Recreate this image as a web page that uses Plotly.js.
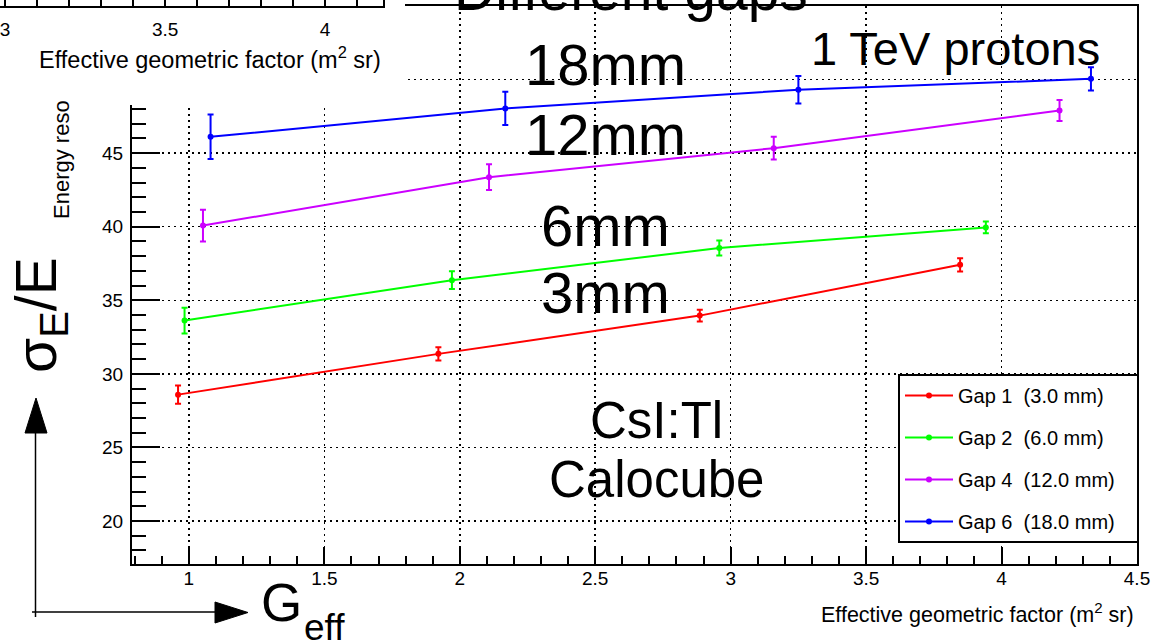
<!DOCTYPE html>
<html><head><meta charset="utf-8">
<script src="https://cdn.plot.ly/plotly-3.0.1.min.js"></script>
<style>html,body{margin:0;padding:0;background:#fff}#chart{width:1164px;height:642px}</style>
</head><body><div id="chart"></div>
<script>
// ---------------- data ----------------
const gap1_x = [0.960, 1.921, 2.886, 3.847];
const gap1_y = [28.59, 31.36, 33.96, 37.41];
const gap1_err = [0.62, 0.45, 0.40, 0.45];

const gap2_x = [0.984, 1.971, 2.958, 3.942];
const gap2_y = [33.62, 36.37, 38.55, 39.95];
const gap2_err = [0.87, 0.60, 0.51, 0.40];

const gap4_x = [1.052, 2.108, 3.159, 4.214];
const gap4_y = [40.08, 43.37, 45.34, 47.90];
const gap4_err = [1.08, 0.87, 0.77, 0.72];

const gap6_x = [1.080, 2.168, 3.250, 4.330];
const gap6_y = [46.11, 48.04, 49.31, 50.05];
const gap6_err = [1.51, 1.13, 0.93, 0.79];

const seriesNames = ['Gap 1\u00a0\u00a0(3.0 mm)\u00a0\u00a0\u00a0', 'Gap 2\u00a0\u00a0(6.0 mm)\u00a0\u00a0\u00a0', 'Gap 4\u00a0\u00a0(12.0 mm)\u00a0\u00a0\u00a0', 'Gap 6\u00a0\u00a0(18.0 mm)\u00a0\u00a0\u00a0'];
const seriesColors = ['#ff0000', '#00ff00', '#cc00ff', '#0000ff'];
const gapLabels = ['18mm', '12mm', '6mm', '3mm'];
const xTitle = 'Effective geometric factor (m<sup>2</sup> sr)';

// ---------------- helpers (pixel -> paper) ----------------
const W = 1164, H = 642;
const PX = p => p / W;
const PY = p => 1 - p / H;
const FONT = '"Liberation Sans", Arial, Helvetica, sans-serif';

const xs = [gap1_x, gap2_x, gap4_x, gap6_x];
const ys = [gap1_y, gap2_y, gap4_y, gap6_y];
const es = [gap1_err, gap2_err, gap4_err, gap6_err];

const traces = xs.map((x, i) => ({
  type: 'scatter', mode: 'lines+markers',
  x: x, y: ys[i], name: seriesNames[i], legendgroup: 'g' + i,
  line: {color: seriesColors[i], width: 2},
  marker: {color: seriesColors[i], size: 6, symbol: 'circle'},
  error_y: {type: 'data', array: es[i], visible: true, color: seriesColors[i], thickness: 2, width: 3},
  xaxis: 'x', yaxis: 'y'
}));
// helper subplots (mask + fragment axis of an adjoining plot)
traces.push({type: 'scatter', x: [], y: [], xaxis: 'x2', yaxis: 'y2', showlegend: false, hoverinfo: 'skip'});
traces.push({type: 'scatter', x: [], y: [], xaxis: 'x3', yaxis: 'y3', showlegend: false, hoverinfo: 'skip'});

const common = {
  showline: true, linecolor: 'black', linewidth: 2, ticks: 'inside', tickwidth: 2, tickcolor: 'black',
  zeroline: false, tickfont: {size: 19, family: FONT, color: 'black'}
};

const layout = {
  width: W, height: H,
  margin: {l: 0, r: 0, t: 0, b: 0, pad: 0},
  paper_bgcolor: 'white', plot_bgcolor: 'white',
  font: {family: FONT, color: 'black'},
  showlegend: true,
  legend: {
    x: PX(898), y: PY(374), xanchor: 'left', yanchor: 'top',
    bgcolor: 'white', bordercolor: 'black', borderwidth: 2,
    font: {size: 20, family: FONT, color: 'black'},
    tracegroupgap: 13, itemwidth: 48, traceorder: 'grouped'
  },
  xaxis: Object.assign({}, common, {
    domain: [PX(132), PX(1137)], range: [0.79, 4.5], anchor: 'y', mirror: true,
    ticklen: 17, dtick: 0.5, tick0: 0,
    showgrid: true, gridcolor: 'black', gridwidth: 1.5, griddash: '2px,4px',
    minor: {dtick: 0.1, ticks: 'inside', ticklen: 8, tickwidth: 2, tickcolor: 'black', showgrid: false},
    ticklabelstandoff: -4
  }),
  yaxis: Object.assign({}, common, {
    domain: [PY(564), PY(6)], range: [17.08, 55], anchor: 'x', mirror: true,
    ticklen: 28, dtick: 5, tick0: 0,
    showgrid: true, gridcolor: 'black', gridwidth: 1.5, griddash: '2px,4px',
    minor: {dtick: 1, ticks: 'inside', ticklen: 14, tickwidth: 2, tickcolor: 'black', showgrid: false},
    ticklabelstandoff: 3
  }),
  xaxis2: {domain: [0, PX(405)], range: [0, 1], visible: false, anchor: 'y2', fixedrange: true},
  yaxis2: {domain: [PY(105), 1], range: [0, 1], visible: false, anchor: 'x2', fixedrange: true},
  xaxis3: Object.assign({}, common, {
    domain: [0, PX(383)], range: [2.984, 4.181], anchor: 'y3',
    ticklen: 12, dtick: 0.5, tick0: 0, showgrid: false,
    minor: {dtick: 0.1, ticks: 'inside', ticklen: 12, tickwidth: 2, tickcolor: 'black', showgrid: false},
    ticklabelstandoff: 5, ticklabeloverflow: 'allow'
  }),
  yaxis3: {domain: [PY(6), 1], range: [0, 1], anchor: 'x3', side: 'right', showline: true, linecolor: 'black', linewidth: 2,
    showticklabels: false, ticks: '', showgrid: false, zeroline: false},
  shapes: [
    // white mask hiding the upper-left corner of the main frame (another plot overlaps it)
    {type: 'rect', xref: 'x2', yref: 'y2', x0: 0, x1: 1, y0: 0, y1: 1, fillcolor: 'white', line: {width: 0}, layer: 'below'},
    // hand-drawn axis arrows
    {type: 'line', xref: 'paper', yref: 'paper', x0: PX(35.5), x1: PX(35.5), y0: PY(430), y1: PY(617), line: {color: 'black', width: 1.5}, layer: 'above'},
    {type: 'path', xref: 'paper', yref: 'paper', path: `M ${PX(36)} ${PY(398)} L ${PX(25)} ${PY(433)} L ${PX(47)} ${PY(433)} Z`, fillcolor: 'black', line: {color: 'black', width: 1}, layer: 'above'},
    {type: 'line', xref: 'paper', yref: 'paper', x0: PX(32), x1: PX(218), y0: PY(612), y1: PY(612), line: {color: 'black', width: 1.5}, layer: 'above'},
    {type: 'path', xref: 'paper', yref: 'paper', path: `M ${PX(248)} ${PY(612.5)} L ${PX(215)} ${PY(602)} L ${PX(215)} ${PY(623)} Z`, fillcolor: 'black', line: {color: 'black', width: 1}, layer: 'above'}
  ],
  annotations: [
    {text: 'Different gaps', x: PX(631), y: PY(24), xref: 'paper', yref: 'paper', xanchor: 'center', yanchor: 'bottom', showarrow: false, font: {size: 57, family: FONT}},
    {text: gapLabels[0], x: PX(605), y: PY(64.5), xref: 'paper', yref: 'paper', xanchor: 'center', yanchor: 'middle', showarrow: false, font: {size: 58, family: FONT}},
    {text: gapLabels[1], x: PX(605), y: PY(135), xref: 'paper', yref: 'paper', xanchor: 'center', yanchor: 'middle', showarrow: false, font: {size: 58, family: FONT}},
    {text: gapLabels[2], x: PX(605), y: PY(226), xref: 'paper', yref: 'paper', xanchor: 'center', yanchor: 'middle', showarrow: false, font: {size: 58, family: FONT}},
    {text: gapLabels[3], x: PX(605), y: PY(292), xref: 'paper', yref: 'paper', xanchor: 'center', yanchor: 'middle', showarrow: false, font: {size: 58, family: FONT}},
    {text: '1 TeV protons', x: PX(955), y: PY(48), xref: 'paper', yref: 'paper', xanchor: 'center', yanchor: 'middle', showarrow: false, font: {size: 47, family: FONT}},
    {text: 'CsI:Tl', x: PX(656), y: PY(420), xref: 'paper', yref: 'paper', xanchor: 'center', yanchor: 'middle', showarrow: false, font: {size: 51, family: FONT}},
    {text: 'Calocube', x: PX(656), y: PY(479), xref: 'paper', yref: 'paper', xanchor: 'center', yanchor: 'middle', showarrow: false, font: {size: 51, family: FONT}},
    {text: 'σ<sub>E</sub>/E', x: PX(40), y: PY(315), xref: 'paper', yref: 'paper', xanchor: 'center', yanchor: 'middle', textangle: -90, showarrow: false, font: {size: 57, family: FONT}},
    {text: 'G', x: PX(259), y: PY(602), xref: 'paper', yref: 'paper', xanchor: 'left', yanchor: 'middle', showarrow: false, font: {size: 53, family: FONT}},
    {text: 'eff', x: PX(302), y: PY(627), xref: 'paper', yref: 'paper', xanchor: 'left', yanchor: 'middle', showarrow: false, font: {size: 37, family: FONT}},
    {text: 'Energy reso', x: PX(61), y: PY(160), xref: 'paper', yref: 'paper', xanchor: 'center', yanchor: 'middle', textangle: -90, showarrow: false, font: {size: 22, family: FONT}},
    {text: xTitle, x: PX(1136), y: PY(613), xref: 'paper', yref: 'paper', xanchor: 'right', yanchor: 'middle', showarrow: false, font: {size: 21.5, family: FONT}},
    {text: xTitle, x: PX(383), y: PY(58), xref: 'paper', yref: 'paper', xanchor: 'right', yanchor: 'middle', showarrow: false, font: {size: 23.5, family: FONT}}
  ]
};

Plotly.newPlot('chart', traces, layout, {displayModeBar: false, staticPlot: true});
</script>
</body></html>
